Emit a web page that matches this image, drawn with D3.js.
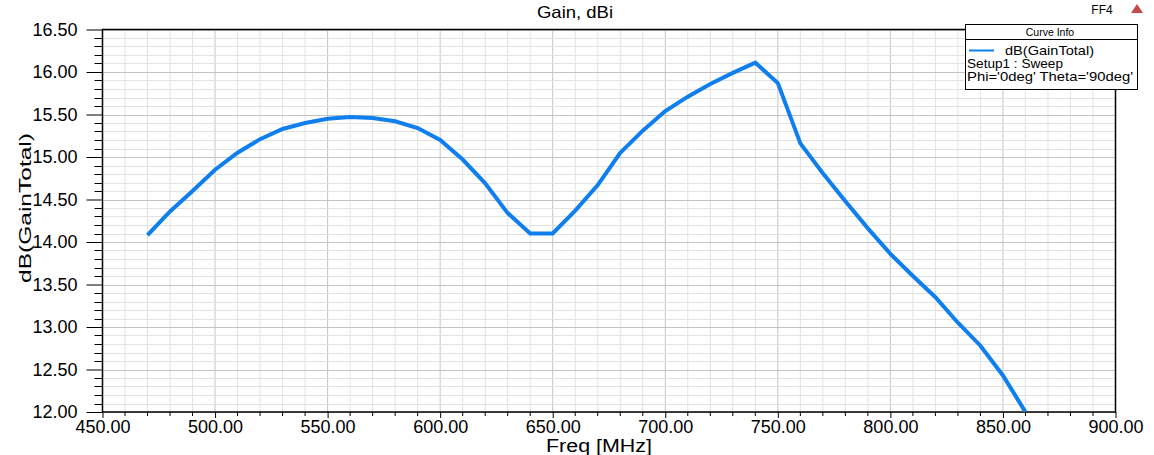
<!DOCTYPE html>
<html>
<head>
<meta charset="utf-8">
<script src="https://cdn.jsdelivr.net/npm/d3@7/dist/d3.min.js"></script>
<style>
  body { margin: 0; background: #fff; }
  svg { display: block; font-family: "Liberation Sans", Arial, sans-serif; }
</style>
</head>
<body>
<script>
// ----- DATA -----
const freqs = [470, 480, 490, 500, 510, 520, 530, 540, 550, 560,
  570, 580, 590, 600, 610, 620, 630, 640, 650, 660,
  670, 680, 690, 700, 710, 720, 730, 740, 750, 760,
  770, 780, 790, 800, 810, 820, 830, 840, 850, 860];
const gainTotal = [14.08, 14.36, 14.60, 14.85, 15.05, 15.21, 15.33, 15.40, 15.45, 15.47,
  15.46, 15.42, 15.34, 15.20, 14.97, 14.69, 14.34, 14.10, 14.10, 14.37,
  14.67, 15.05, 15.31, 15.54, 15.71, 15.86, 15.99, 16.11, 15.87, 15.16,
  14.81, 14.48, 14.16, 13.86, 13.60, 13.35, 13.05, 12.78, 12.43, 12.00];
const xTicks = [450, 500, 550, 600, 650, 700, 750, 800, 850, 900];
const yTicks = [12.0, 12.5, 13.0, 13.5, 14.0, 14.5, 15.0, 15.5, 16.0, 16.5];
const legendLines = ["dB(GainTotal)", "Setup1 : Sweep", "Phi='0deg' Theta='90deg'"];

const w = 1154, h = 455;
const pLeft = 102.5, pRight = 1115.5, pTop = 29.5, pBottom = 412;

// ----- SCALES -----
const xScale = d3.scaleLinear().domain([450, 900]).range([pLeft, pRight]);
const yScale = d3.scaleLinear().domain([12, 16.5]).range([pBottom, pTop]);

const svg = d3.select("body").append("svg")
  .attr("width", w)
  .attr("height", h);

// ----- GRID -----
const xMinor = d3.range(450, 900.1, 10);
const yMinor = d3.range(120, 165.1, 1).map(d => d / 10);

svg.append("g").selectAll("line").data(xMinor).enter().append("line")
  .attr("x1", d => xScale(d)).attr("x2", d => xScale(d))
  .attr("y1", pTop).attr("y2", pBottom)
  .attr("stroke", d => d % 50 === 0 ? "#c4c4c4" : "#e2e2e2")
  .attr("stroke-width", 1);

svg.append("g").selectAll("line").data(yMinor).enter().append("line")
  .attr("x1", pLeft).attr("x2", pRight)
  .attr("y1", d => Math.round(yScale(d)) + 0.5).attr("y2", d => Math.round(yScale(d)) + 0.5)
  .attr("stroke", (d, i) => i % 5 === 0 ? "#c4c4c4" : "#e2e2e2")
  .attr("stroke-width", 1);

// ----- AXES -----
const xAxis = d3.axisBottom(xScale).tickValues(xTicks).tickSize(6).tickSizeOuter(0)
  .tickFormat(d3.format(".2f"));
const gx = svg.append("g").attr("transform", "translate(0," + pBottom + ")").call(xAxis);
gx.select(".domain").remove();
gx.selectAll("text").attr("font-size", 18).attr("font-family", "Liberation Sans, Arial, sans-serif")
  .attr("fill", "#000").attr("y", 8);

// minor x ticks
svg.append("g").selectAll("line").data(xMinor.filter(d => d % 50 !== 0)).enter().append("line")
  .attr("x1", d => xScale(d)).attr("x2", d => xScale(d))
  .attr("y1", pBottom).attr("y2", pBottom + 4)
  .attr("stroke", "#000");

const yAxis = d3.axisLeft(yScale).tickValues(yTicks).tickSize(16).tickSizeOuter(0)
  .tickFormat(d3.format(".2f"));
const gy = svg.append("g").attr("transform", "translate(" + pLeft + ",0)").call(yAxis);
gy.select(".domain").remove();
gy.selectAll("text").attr("font-size", 18).attr("font-family", "Liberation Sans, Arial, sans-serif")
  .attr("fill", "#000").attr("x", -25);

// minor y ticks
svg.append("g").selectAll("line").data(yMinor.filter((d, i) => i % 5 !== 0)).enter().append("line")
  .attr("x1", pLeft - 8).attr("x2", pLeft)
  .attr("y1", d => Math.round(yScale(d)) + 0.5).attr("y2", d => Math.round(yScale(d)) + 0.5)
  .attr("stroke", "#000");

// frame
svg.append("rect")
  .attr("x", pLeft).attr("y", pTop)
  .attr("width", pRight - pLeft).attr("height", pBottom - pTop)
  .attr("fill", "none").attr("stroke", "#000").attr("stroke-width", 1.5);

// ----- CURVE -----
svg.append("defs").append("clipPath").attr("id", "clip")
  .append("rect").attr("x", pLeft).attr("y", pTop).attr("width", pRight - pLeft).attr("height", pBottom - pTop);

const line = d3.line().x((d, i) => xScale(freqs[i])).y(d => yScale(d));
svg.append("path")
  .datum(gainTotal)
  .attr("clip-path", "url(#clip)")
  .attr("d", line)
  .attr("fill", "none")
  .attr("stroke", "#0f7fee")
  .attr("stroke-width", 4)
  .attr("stroke-linejoin", "miter");

// ----- TITLES -----
svg.append("text").attr("x", 575).attr("y", 18)
  .attr("text-anchor", "middle").attr("font-size", 16.5)
  .attr("textLength", 76).attr("lengthAdjust", "spacingAndGlyphs")
  .text("Gain, dBi");

svg.append("text").attr("x", 599).attr("y", 452)
  .attr("text-anchor", "middle").attr("font-size", 18)
  .attr("textLength", 106).attr("lengthAdjust", "spacingAndGlyphs")
  .text("Freq [MHz]");

svg.append("text")
  .attr("transform", "translate(31,208) rotate(-90)")
  .attr("text-anchor", "middle").attr("font-size", 17)
  .attr("textLength", 150).attr("lengthAdjust", "spacingAndGlyphs")
  .text("dB(GainTotal)");

svg.append("text").attr("x", 1102).attr("y", 13.5)
  .attr("text-anchor", "middle").attr("font-size", 12).text("FF4");

svg.append("path")
  .attr("d", "M1131,13 L1137,4 L1143,13 Z")
  .attr("fill", "#c44a4a");

// ----- LEGEND -----
const lg = svg.append("g");
lg.append("rect").attr("x", 965.5).attr("y", 24.5).attr("width", 172).attr("height", 65)
  .attr("fill", "#fff").attr("stroke", "#000").attr("stroke-width", 1);
lg.append("line").attr("x1", 965.5).attr("x2", 1137.5).attr("y1", 39.5).attr("y2", 39.5)
  .attr("stroke", "#000");
lg.append("text").attr("x", 1050).attr("y", 36).attr("text-anchor", "middle")
  .attr("font-size", 10.5).text("Curve Info");
lg.append("line").attr("x1", 969).attr("x2", 994).attr("y1", 50.5).attr("y2", 50.5)
  .attr("stroke", "#0f7fee").attr("stroke-width", 2);
lg.selectAll("text.item").data(legendLines).enter().append("text")
  .attr("class", "item")
  .attr("x", (d, i) => i === 0 ? 1005 : 967)
  .attr("y", (d, i) => 55 + i * 13)
  .attr("font-size", 13.5)
  .attr("textLength", (d, i) => [89, 96, 166][i])
  .attr("lengthAdjust", "spacingAndGlyphs")
  .text(d => d);
</script>
</body>
</html>
